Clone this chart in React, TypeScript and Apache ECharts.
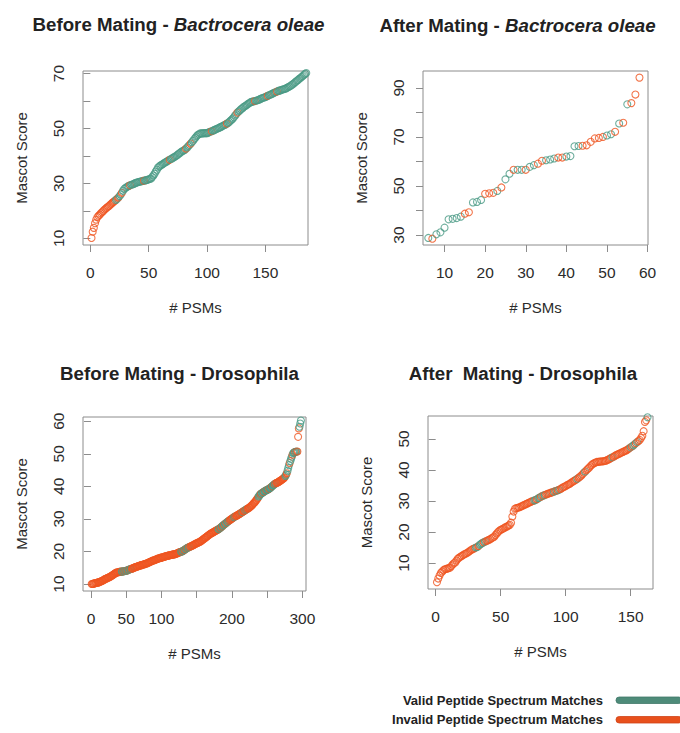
import React, { useEffect, useRef } from "react";
import * as echarts from "echarts";

// ---------- data ----------
// Before Mating - Bactrocera oleae (PSM index starts at 1)
const bmBoScores = [
  10.1, 12.4, 13.8, 15.5, 16.8, 17.7, 18.2, 18.6, 19.1, 19.5,
  19.9, 20.4, 20.8, 21.1, 21.5, 21.8, 22.2, 22.6, 23.0, 23.3,
  23.7, 24.0, 24.4, 24.9, 25.3, 26.0, 26.6, 27.3, 28.0, 28.3,
  28.6, 28.9, 29.1, 29.3, 29.5, 29.6, 29.8, 30.0, 30.2, 30.3,
  30.5, 30.6, 30.7, 30.8, 30.9, 31.0, 31.1, 31.2, 31.3, 31.5,
  31.6, 31.8, 32.3, 32.9, 33.5, 34.3, 35.0, 35.8, 36.2, 36.5,
  36.8, 37.0, 37.3, 37.6, 37.9, 38.1, 38.4, 38.6, 38.9, 39.1,
  39.4, 39.6, 39.9, 40.2, 40.5, 40.9, 41.2, 41.5, 41.8, 42.0,
  42.3, 42.7, 43.1, 43.6, 44.0, 44.5, 45.0, 45.5, 46.1, 46.6,
  47.2, 47.6, 47.9, 48.2, 48.2, 48.2, 48.3, 48.3, 48.3, 48.3,
  48.5, 48.7, 48.9, 49.0, 49.2, 49.4, 49.6, 49.8, 50.0, 50.2,
  50.4, 50.6, 50.8, 51.1, 51.3, 51.5, 51.8, 52.0, 52.4, 52.8,
  53.2, 53.6, 54.1, 54.7, 55.2, 55.8, 56.2, 56.6, 57.0, 57.3,
  57.7, 58.0, 58.3, 58.6, 58.9, 59.2, 59.5, 59.7, 59.8, 59.9,
  60.0, 60.1, 60.3, 60.4, 60.6, 60.8, 61.0, 61.2, 61.3, 61.5,
  61.7, 61.9, 62.1, 62.3, 62.5, 62.7, 62.9, 63.1, 63.3, 63.5,
  63.7, 63.8, 63.9, 64.1, 64.2, 64.4, 64.5, 64.7, 64.9, 65.2,
  65.4, 65.7, 66.0, 66.3, 66.7, 67.0, 67.4, 67.7, 68.1, 68.4,
  68.8, 69.1, 69.5, 69.9, 70.2,
];
const bmBoInvalid = [
  1, 2, 3, 4, 5, 6, 7, 8, 9, 10, 11, 12, 13, 14, 15, 16, 17, 18, 19, 20, 21,
  24, 27, 34, 46, 68, 82, 86, 104, 117, 126, 141, 152, 160,
];

// After Mating - Bactrocera oleae (PSM index starts at 6)
const amBoScores = [
  28.8, 28.5, 30.3, 31.1, 33.0, 36.4, 36.6, 36.9, 37.5, 38.7,
  39.3, 43.3, 43.5, 44.3, 46.8, 47.0, 47.2, 48.0, 49.4, 52.7,
  55.0, 56.6, 56.6, 56.6, 56.6, 57.8, 58.5, 59.1, 60.3, 60.5,
  60.8, 61.2, 61.6, 61.6, 62.0, 62.2, 66.2, 66.3, 66.4, 66.6,
  68.0, 69.4, 69.6, 70.0, 70.6, 71.1, 72.1, 75.5, 75.8, 83.3,
  83.8, 87.3, 94.2,
];
const amBoInvalid = [
  7, 15, 16, 20, 21, 22, 24, 27, 30, 33, 34, 38, 39, 44, 45, 46, 47, 48, 49,
  52, 54, 56, 57, 58,
];

// Before Mating - Drosophila (PSM index starts at 1)
const bmDrScores = [
  10.0, 10.0, 10.1, 10.1, 10.2, 10.2, 10.3, 10.3, 10.4, 10.5,
  10.5, 10.6, 10.7, 10.8, 10.9, 11.0, 11.1, 11.2, 11.4, 11.5,
  11.6, 11.7, 11.8, 11.9, 12.0, 12.1, 12.2, 12.3, 12.5, 12.6,
  12.8, 12.9, 13.1, 13.2, 13.4, 13.5, 13.5, 13.6, 13.6, 13.7,
  13.7, 13.8, 13.8, 13.8, 13.9, 13.9, 13.9, 14.0, 14.0, 14.1,
  14.1, 14.2, 14.3, 14.4, 14.5, 14.6, 14.6, 14.7, 14.8, 14.9,
  15.0, 15.1, 15.2, 15.2, 15.3, 15.4, 15.5, 15.5, 15.6, 15.7,
  15.8, 15.8, 15.9, 16.0, 16.0, 16.1, 16.2, 16.2, 16.3, 16.4,
  16.5, 16.6, 16.7, 16.8, 16.9, 17.0, 17.1, 17.2, 17.3, 17.3,
  17.4, 17.5, 17.6, 17.7, 17.8, 17.8, 17.9, 18.0, 18.0, 18.1,
  18.2, 18.2, 18.3, 18.4, 18.4, 18.5, 18.6, 18.6, 18.7, 18.7,
  18.8, 18.8, 18.9, 18.9, 19.0, 19.0, 19.1, 19.1, 19.2, 19.2,
  19.3, 19.4, 19.5, 19.6, 19.7, 19.8, 19.8, 19.9, 20.0, 20.1,
  20.2, 20.4, 20.5, 20.7, 20.8, 21.0, 21.1, 21.2, 21.3, 21.4,
  21.5, 21.6, 21.7, 21.8, 21.9, 22.0, 22.2, 22.3, 22.4, 22.5,
  22.6, 22.7, 22.8, 22.9, 23.0, 23.2, 23.3, 23.5, 23.7, 23.8,
  24.0, 24.2, 24.3, 24.5, 24.7, 24.8, 25.0, 25.2, 25.3, 25.5,
  25.6, 25.7, 25.8, 26.0, 26.1, 26.2, 26.3, 26.5, 26.6, 26.7,
  26.8, 27.0, 27.1, 27.3, 27.5, 27.7, 27.9, 28.1, 28.3, 28.4,
  28.6, 28.8, 29.0, 29.1, 29.3, 29.5, 29.6, 29.8, 29.9, 30.1,
  30.2, 30.4, 30.5, 30.7, 30.8, 30.9, 31.0, 31.2, 31.3, 31.4,
  31.5, 31.7, 31.8, 32.0, 32.1, 32.3, 32.4, 32.5, 32.7, 32.8,
  33.0, 33.1, 33.2, 33.4, 33.5, 33.7, 33.9, 34.1, 34.3, 34.6,
  34.8, 35.0, 35.3, 35.6, 35.9, 36.2, 36.5, 36.9, 37.2, 37.5,
  37.7, 37.8, 38.0, 38.1, 38.3, 38.4, 38.6, 38.7, 38.8, 38.9,
  39.0, 39.1, 39.3, 39.4, 39.6, 39.8, 40.0, 40.2, 40.4, 40.6,
  40.8, 40.9, 41.0, 41.1, 41.2, 41.3, 41.5, 41.6, 41.8, 41.9,
  42.1, 42.2, 42.4, 42.6, 42.8, 43.2, 43.6, 44.0, 44.8, 45.6,
  46.5, 47.2, 47.8, 48.5, 49.1, 49.7, 50.2, 50.4, 50.5, 50.6,
  50.6, 50.7, 50.7, 55.2, 57.8, 58.3, 59.3, 60.2,
];
const bmDrValid = [
  44, 45, 47, 48, 50, 51, 53, 54, 56, 57,
  128, 129, 131, 132, 134, 135, 137, 138, 140,
  181, 182, 184, 185, 187, 188, 190, 191, 193, 194, 196,
  203, 205, 215, 219, 221,
  238, 239, 240, 242, 243, 244, 246, 247, 248, 250, 251, 252, 254, 255, 256, 258, 259, 260, 262,
  276, 277, 279, 280, 281, 283, 284, 285, 287, 288, 289, 291, 292, 296, 297, 298,
];

// After Mating - Drosophila (PSM index starts at 1)
const amDrScores = [
  3.8, 5.0, 6.0, 6.8, 7.3, 7.7, 8.0, 8.1, 8.2, 8.4,
  8.5, 9.0, 9.5, 9.9, 10.2, 10.8, 11.4, 11.7, 12.0, 12.3,
  12.5, 12.8, 13.0, 13.2, 13.5, 13.8, 14.1, 14.4, 14.6, 14.8,
  15.0, 15.2, 15.5, 15.9, 16.2, 16.5, 16.7, 16.9, 17.1, 17.3,
  17.5, 17.7, 18.0, 18.2, 18.5, 19.0, 19.5, 20.0, 20.4, 20.7,
  20.9, 21.1, 21.4, 21.6, 21.8, 22.1, 22.3, 23.0, 25.0, 26.6,
  27.5, 27.7, 27.8, 27.9, 28.1, 28.3, 28.5, 28.7, 28.9, 29.1,
  29.3, 29.5, 29.7, 29.9, 30.0, 30.2, 30.4, 30.6, 30.9, 31.1,
  31.4, 31.6, 31.8, 31.9, 32.1, 32.3, 32.4, 32.6, 32.7, 32.9,
  33.0, 33.2, 33.3, 33.5, 33.6, 33.9, 34.1, 34.4, 34.6, 34.8,
  35.1, 35.3, 35.5, 35.8, 36.1, 36.4, 36.6, 36.9, 37.2, 37.5,
  37.8, 38.2, 38.6, 39.1, 39.5, 39.9, 40.3, 40.7, 41.2, 41.6,
  42.0, 42.2, 42.4, 42.6, 42.6, 42.7, 42.7, 42.8, 42.8, 42.9,
  43.0, 43.2, 43.4, 43.6, 43.9, 44.1, 44.3, 44.6, 44.8, 45.0,
  45.2, 45.4, 45.6, 45.8, 46.0, 46.2, 46.4, 46.7, 47.0, 47.3,
  47.6, 47.9, 48.3, 48.6, 49.0, 49.3, 49.7, 50.3, 51.0, 52.5,
  55.5, 56.0, 57.0,
];
const amDrValid = [
  31, 32, 34, 35, 36, 38, 76, 77, 79, 80, 82, 84, 91, 93, 95, 109, 115, 136,
  150, 152, 153, 155, 163,
];

// axis ticks / labels
const p1XTicks = [0, 50, 100, 150];
const p1YTicks = [10, 20, 30, 40, 50, 60, 70];
const p1YLabels = [10, 30, 50, 70];
const p2XTicks = [10, 20, 30, 40, 50, 60];
const p2YTicks = [30, 40, 50, 60, 70, 80, 90];
const p2YLabels = [30, 50, 70, 90];
const p3XTicks = [0, 50, 100, 150, 200, 250, 300];
const p3XLabels = [0, 50, 100, 200, 300];
const p3YTicks = [10, 20, 30, 40, 50, 60];
const p4XTicks = [0, 50, 100, 150];
const p4YTicks = [10, 20, 30, 40, 50];

const legendLabels = ["Valid Peptide Spectrum Matches", "Invalid Peptide Spectrum Matches"];

// ---------- styles ----------
const GREEN = "#4a9a84";
const ORANGE = "#ef5521";
const FONT = "'Liberation Sans', Arial, Helvetica, sans-serif";
const TXT = "#2b2b2b";
const BOX = "#8c8c8c";

function buildPoints(scores: number[], x0: number, isValid: (x: number) => boolean) {
  return scores.map((s, i) => {
    const x = x0 + i;
    return {
      value: [x, s],
      itemStyle: { borderColor: isValid(x) ? GREEN : ORANGE },
    };
  });
}

function makeX(gi: number, min: number, max: number, ticks: number[], labels: number[]) {
  return {
    gridIndex: gi,
    type: "value",
    min,
    max,
    axisLine: { show: false },
    splitLine: { show: false },
    axisTick: { show: true, length: 7, customValues: ticks, lineStyle: { color: BOX, width: 1 } },
    axisLabel: { customValues: labels, margin: 19, fontSize: 15.5, color: TXT, fontFamily: FONT },
    name: "# PSMs",
    nameLocation: "middle",
    nameGap: 55,
    nameTextStyle: { fontSize: 15, color: TXT, fontFamily: FONT },
  };
}

function makeY(gi: number, min: number, max: number, ticks: number[], labels: number[]) {
  return {
    gridIndex: gi,
    type: "value",
    min,
    max,
    axisLine: { show: false },
    splitLine: { show: false },
    axisTick: { show: true, length: 7, customValues: ticks, lineStyle: { color: BOX, width: 1 } },
    axisLabel: { customValues: labels, margin: 17, rotate: 90, fontSize: 15.5, color: TXT, fontFamily: FONT },
    name: "Mascot Score",
    nameLocation: "middle",
    nameGap: 54,
    nameTextStyle: { fontSize: 15, color: TXT, fontFamily: FONT },
  };
}

function titleText(x: number, y: number, text: string) {
  return {
    type: "text",
    x,
    y,
    style: {
      text,
      fill: "#222",
      fontSize: 18.7,
      fontWeight: "bold",
      fontFamily: FONT,
      textAlign: "center",
      textVerticalAlign: "middle",
      align: "center",
      verticalAlign: "middle",
      rich: {
        i: { fontSize: 18.7, fontWeight: "bold", fontStyle: "italic", fontFamily: FONT, fill: "#222" },
      },
    },
  };
}

export default function App() {
  const ref = useRef<HTMLDivElement>(null);

  useEffect(() => {
    if (!ref.current) return;
    const chart = echarts.init(ref.current, undefined, { renderer: "svg" });

    const inv1 = new Set(bmBoInvalid);
    const inv2 = new Set(amBoInvalid);
    const val3 = new Set(bmDrValid);
    const val4 = new Set(amDrValid);

    const seriesBase = {
      type: "scatter",
      symbol: "circle",
      symbolSize: 7,
      clip: false,
      itemStyle: { color: "rgba(0,0,0,0)", borderWidth: 1.1 },
      emphasis: { disabled: true },
    };

    const option = {
      animation: false,
      backgroundColor: "#ffffff",
      grid: [
        { left: 83, top: 71, width: 225, height: 174, show: true, borderColor: BOX, borderWidth: 1 },
        { left: 423, top: 71, width: 225, height: 174, show: true, borderColor: BOX, borderWidth: 1 },
        { left: 83, top: 417, width: 223, height: 174, show: true, borderColor: BOX, borderWidth: 1 },
        { left: 428, top: 416, width: 225, height: 173, show: true, borderColor: BOX, borderWidth: 1 },
      ],
      xAxis: [
        makeX(0, -6.3, 186.5, p1XTicks, p1XTicks),
        makeX(1, 4.7, 60.1, p2XTicks, p2XTicks),
        makeX(2, -11.3, 305.2, p3XTicks, p3XLabels),
        makeX(3, -5.9, 167.2, p4XTicks, p4XTicks),
      ],
      yAxis: [
        makeY(0, 7.56, 70.95, p1YTicks, p1YLabels),
        makeY(1, 25.93, 96.9, p2YTicks, p2YLabels),
        makeY(2, 7.85, 61.3, p3YTicks, p3YTicks),
        makeY(3, 1.63, 57.4, p4YTicks, p4YTicks),
      ],
      series: [
        { ...seriesBase, xAxisIndex: 0, yAxisIndex: 0, data: buildPoints(bmBoScores, 1, (x) => !inv1.has(x)) },
        { ...seriesBase, xAxisIndex: 1, yAxisIndex: 1, data: buildPoints(amBoScores, 6, (x) => !inv2.has(x)) },
        { ...seriesBase, xAxisIndex: 2, yAxisIndex: 2, data: buildPoints(bmDrScores, 1, (x) => val3.has(x)) },
        { ...seriesBase, xAxisIndex: 3, yAxisIndex: 3, data: buildPoints(amDrScores, 1, (x) => val4.has(x)) },
      ],
      graphic: [
        titleText(178.5, 24, "Before Mating - {i|Bactrocera oleae}"),
        titleText(517.5, 25, "After Mating - {i|Bactrocera oleae}"),
        titleText(179.5, 373, "Before Mating - Drosophila"),
        titleText(523, 373, "After  Mating - Drosophila"),
        {
          type: "text",
          x: 603,
          y: 700,
          style: {
            text: legendLabels[0],
            fill: "#222",
            fontSize: 13,
            fontWeight: "bold",
            fontFamily: FONT,
            textAlign: "right",
            textVerticalAlign: "middle",
            align: "right",
            verticalAlign: "middle",
          },
        },
        {
          type: "rect",
          shape: { x: 616, y: 697, width: 66, height: 6.5, r: 3.2 },
          style: { fill: "#4e8b79", stroke: "#41786a", lineWidth: 0.8 },
        },
        {
          type: "text",
          x: 603,
          y: 719.5,
          style: {
            text: legendLabels[1],
            fill: "#222",
            fontSize: 13,
            fontWeight: "bold",
            fontFamily: FONT,
            textAlign: "right",
            textVerticalAlign: "middle",
            align: "right",
            verticalAlign: "middle",
          },
        },
        {
          type: "rect",
          shape: { x: 616, y: 716.5, width: 66, height: 6.5, r: 3.2 },
          style: { fill: "#e8501c", stroke: "#cf4316", lineWidth: 0.8 },
        },
      ],
    };

    chart.setOption(option as any);
    return () => {
      chart.dispose();
    };
  }, []);

  return (
    <div
      ref={ref}
      style={{ position: "absolute", left: 0, top: 0, width: 680, height: 733 }}
    />
  );
}
